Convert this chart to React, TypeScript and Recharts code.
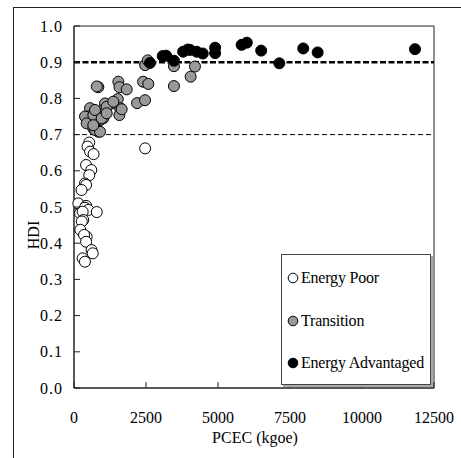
import { ScatterChart, Scatter, XAxis, YAxis, ReferenceLine, ReferenceArea, Legend, Label } from 'recharts'

// Energy Poor (white), Transition (grey), Energy Advantaged (black)
const poorPcec = [2470, 530, 470, 560, 680, 420, 600, 530, 380, 420, 260, 180, 150, 420, 380, 500, 790, 210, 300, 320, 270, 220, 440, 350, 420, 610, 650, 300, 380]
const poorHdi = [0.662, 0.678, 0.667, 0.653, 0.646, 0.616, 0.602, 0.588, 0.565, 0.561, 0.547, 0.506, 0.51, 0.503, 0.498, 0.492, 0.486, 0.483, 0.487, 0.464, 0.46, 0.437, 0.418, 0.423, 0.404, 0.381, 0.372, 0.358, 0.349]

const transPcec = [845, 790, 1540, 1580, 1830, 2400, 2580, 2470, 2560, 3470, 3470, 4200, 4050, 2190, 2466, 1520, 1600, 1575, 1310, 1076, 1018, 556, 497, 382, 440, 671, 845, 903, 787, 671, 1018, 729, 1135, 729, 903, 671, 961, 1135, 1655, 1366]
const transHdi = [0.831, 0.833, 0.846, 0.831, 0.825, 0.846, 0.84, 0.892, 0.905, 0.889, 0.834, 0.888, 0.86, 0.787, 0.795, 0.798, 0.773, 0.754, 0.786, 0.786, 0.768, 0.773, 0.75, 0.75, 0.731, 0.717, 0.708, 0.74, 0.74, 0.754, 0.745, 0.768, 0.777, 0.713, 0.708, 0.726, 0.745, 0.759, 0.77, 0.791]

const advPcec = [2640, 3080, 3200, 3470, 3790, 3950, 4030, 4260, 4470, 4900, 4900, 5820, 6000, 6500, 7130, 7960, 8460, 11840]
const advHdi = [0.898, 0.917, 0.918, 0.904, 0.929, 0.935, 0.934, 0.929, 0.924, 0.94, 0.925, 0.948, 0.954, 0.932, 0.897, 0.938, 0.927, 0.936]

const xTicks = [0, 2500, 5000, 7500, 10000, 12500]
const yTicks = [0, 0.1, 0.2, 0.3, 0.4, 0.5, 0.6, 0.7, 0.8, 0.9, 1.0]
const groupNames = ['Energy Poor', 'Transition', 'Energy Advantaged']
const groupFills = ['#ffffff', '#999999', '#000000']

const toPoints = (xs: number[], ys: number[]) => xs.map((x, i) => ({ x, y: ys[i] }))
const poor = toPoints(poorPcec, poorHdi)
const transition = toPoints(transPcec, transHdi)
const advantaged = toPoints(advPcec, advHdi)

const font = 'Liberation Serif, Times New Roman, DejaVu Serif, serif'
const ink = '#222'
const txt = { fontFamily: font, fontSize: 16, fill: '#000' }

const dot = (fill: string) => (p: any) => (
  <circle cx={p.cx} cy={p.cy} r={5.5} fill={fill} stroke="#000" strokeWidth={1} />
)

const YTick = (p: any) => (
  <g>
    <line x1={p.x + 12} x2={p.x + 18} y1={p.y} y2={p.y} stroke={ink} />
    <text x={p.x + 1} y={p.y} dy="0.35em" textAnchor="end" style={{ ...txt, letterSpacing: 1 }}>
      {Number(p.payload.value).toFixed(1)}
    </text>
  </g>
)

const XTick = (p: any) => (
  <g>
    <line x1={p.x} x2={p.x} y1={p.y - 24} y2={p.y - 30} stroke={ink} />
    <text x={p.x} y={p.y} dy="0.71em" textAnchor="middle" style={txt}>
      {p.payload.value}
    </text>
  </g>
)

const LegendBox = () => (
  <div style={{ width: 150, height: 131, border: '1px solid #444', boxShadow: '2px 2px 0 #aaa', background: '#fff', fontFamily: font, fontSize: 16, color: '#000', boxSizing: 'border-box' }}>
    {groupNames.map((name, i) => (
      <div key={name} style={{ position: 'absolute', left: 6, top: 15 + i * 42.5, display: 'flex', alignItems: 'center', whiteSpace: 'nowrap' }}>
        <svg width={12} height={12} style={{ marginRight: 2 }}>
          <circle cx={6} cy={6} r={4.8} fill={groupFills[i]} stroke="#000" strokeWidth={1} />
        </svg>
        <span style={{ letterSpacing: -0.2 }}>{name}</span>
      </div>
    ))}
  </div>
)

export default function App() {
  return (
    <div style={{ position: 'absolute', left: 0, top: 0, width: 461, height: 458, background: '#fff', overflow: 'hidden' }}>
      <div style={{ position: 'absolute', left: 13, top: 7, width: 460, height: 460, borderLeft: `1px solid ${ink}`, borderTop: `1px solid ${ink}` }} />
      <ScatterChart width={461} height={458} margin={{ top: 26, right: 27, bottom: 10, left: 0 }}>
        <XAxis
          type="number"
          dataKey="x"
          domain={[0, 12500]}
          ticks={xTicks}
          interval={0}
          height={60}
          tickSize={0}
          tickMargin={24}
          tick={XTick}
          axisLine={{ stroke: ink }}
        >
          <Label
            content={() => (
              <text x={255} y={443} textAnchor="middle" style={txt}>PCEC (kgoe)</text>
            )}
          />
        </XAxis>
        <YAxis
          type="number"
          dataKey="y"
          domain={[0, 1]}
          ticks={yTicks}
          interval={0}
          width={74}
          tickSize={0}
          tickMargin={12}
          tick={YTick}
          axisLine={{ stroke: ink }}
        >
          <Label
            content={() => (
              <text x={39} y={235} transform="rotate(-90 39 235)" textAnchor="middle" style={txt}>HDI</text>
            )}
          />
        </YAxis>
        <ReferenceArea x1={0} x2={12500} y1={0} y2={1} fill="none" stroke={ink} strokeWidth={1} />
        <ReferenceLine y={0.7} stroke="#000" strokeWidth={1} strokeDasharray="5 3" />
        <ReferenceLine y={0.9} stroke="#000" strokeWidth={2.5} strokeDasharray="6 2.5" />
        <Scatter name={groupNames[0]} data={poor} shape={dot(groupFills[0])} isAnimationActive={false} />
        <Scatter name={groupNames[1]} data={transition} shape={dot(groupFills[1])} isAnimationActive={false} />
        <Scatter name={groupNames[2]} data={advantaged} shape={dot(groupFills[2])} isAnimationActive={false} />
        <Legend
          layout="horizontal"
          verticalAlign="middle"
          align="center"
          content={LegendBox}
          wrapperStyle={{ position: 'absolute', left: 281, top: 254, width: 150, height: 131 }}
        />
      </ScatterChart>
    </div>
  )
}
